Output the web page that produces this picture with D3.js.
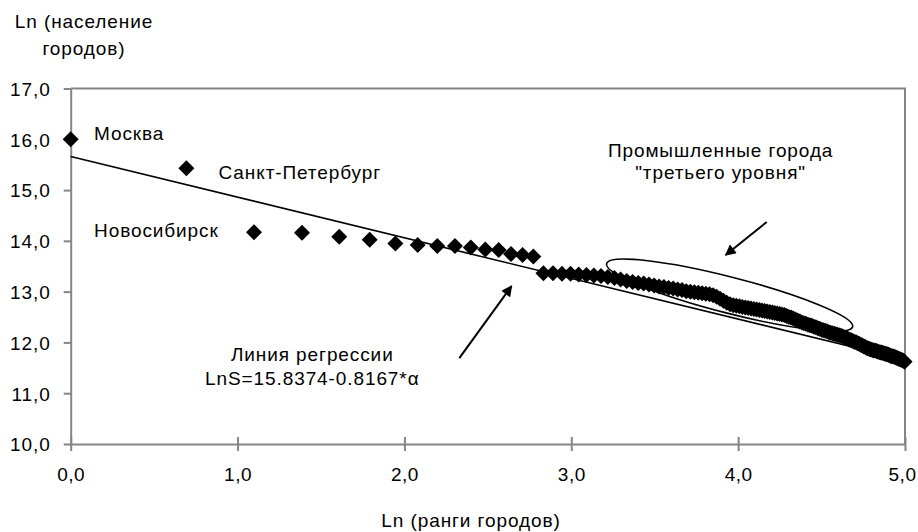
<!DOCTYPE html>
<html>
<head>
<meta charset="utf-8">
<script src="https://cdn.jsdelivr.net/npm/d3@7"></script>
<style>
  body { margin: 0; background: #fff; }
  text { font-family: 'Liberation Sans', Arial, sans-serif; font-size: 19px; letter-spacing: 0.9px; fill: #000; }
</style>
</head>
<body>
<div id="chart"></div>
<script>
// ln(population) of cities, ordered by rank 1..148
const lnPopulation = [
  16.00, 15.43, 14.17, 14.16, 14.08, 14.02, 13.95, 13.92, 13.90, 13.90,
  13.87, 13.83, 13.82, 13.74, 13.72, 13.69, 13.36, 13.36, 13.35, 13.35,
  13.34, 13.33, 13.32, 13.31, 13.29, 13.27, 13.24, 13.21, 13.19, 13.17,
  13.16, 13.14, 13.12, 13.10, 13.09, 13.07, 13.06, 13.04, 13.03, 13.01,
  13.00, 12.99, 12.98, 12.97, 12.96, 12.95, 12.93, 12.90, 12.86, 12.82,
  12.78, 12.75, 12.73, 12.72, 12.71, 12.70, 12.69, 12.68, 12.67, 12.66,
  12.65, 12.64, 12.63, 12.62, 12.61, 12.60, 12.59, 12.58, 12.57, 12.56,
  12.55, 12.54, 12.52, 12.50, 12.49, 12.47, 12.45, 12.43, 12.41, 12.39,
  12.38, 12.37, 12.35, 12.34, 12.33, 12.31, 12.30, 12.28, 12.27, 12.25,
  12.24, 12.23, 12.22, 12.20, 12.19, 12.18, 12.17, 12.16, 12.15, 12.14,
  12.13, 12.12, 12.10, 12.09, 12.08, 12.06, 12.05, 12.04, 12.02, 12.01,
  12.00, 11.98, 11.97, 11.95, 11.94, 11.92, 11.91, 11.89, 11.88, 11.87,
  11.86, 11.85, 11.84, 11.84, 11.83, 11.82, 11.81, 11.80, 11.80, 11.79,
  11.78, 11.77, 11.77, 11.76, 11.75, 11.74, 11.73, 11.73, 11.72, 11.71,
  11.70, 11.69, 11.68, 11.67, 11.66, 11.65, 11.64, 11.62,
];
const ranks = lnPopulation.map((d, i) => i + 1);

const xTicks = [0, 1, 2, 3, 4, 5];
const yTicks = [10, 11, 12, 13, 14, 15, 16, 17];

// trend line as drawn (start / end of the line)
const regressionX = [0, 5];
const regressionY = [15.66, 11.66];

// city labels: [text, ln rank, ln population at baseline]
const cityLabels = [
  ['Москва', 0.14, 15.98],
  ['Санкт-Петербург', 0.886, 15.22],
  ['Новосибирск', 0.14, 14.07],
];

const noteIndustrial = ['Промышленные города', '"третьего уровня"'];
const noteRegression = ['Линия регрессии', 'LnS=15.8374-0.8167*α'];

const width = 918;
const height = 532;
const margin = {
  top: 88.5, right: 13, bottom: 88, left: 70.7,
};
const axisGrey = '#858585';

const svg = d3.select('#chart')
  .append('svg')
  .attr('width', width)
  .attr('height', height);

const x = d3.scaleLinear()
  .domain([0, 5])
  .range([margin.left, width - margin.right]);
// rank -> position, ln taken by the scale itself
const xRank = d3.scaleLog()
  .domain([1, Math.exp(5)])
  .range([margin.left, width - margin.right]);
const y = d3.scaleLinear()
  .domain([10, 17])
  .range([height - margin.bottom, margin.top]);

const fmt = (d) => d.toFixed(1).replace('.', ',');

// top and right frame
svg.append('path')
  .attr('d', `M${x(0)},${y(17)}H${x(5)}V${y(10)}`)
  .attr('fill', 'none')
  .attr('stroke', axisGrey)
  .attr('stroke-width', 2);

// Y axis
const gy = svg.append('g')
  .attr('transform', `translate(${x(0)},0)`)
  .call(d3.axisLeft(y).tickValues(yTicks).tickFormat(fmt).tickSize(7).tickSizeOuter(0).tickPadding(13));
gy.selectAll('path, line').attr('stroke', axisGrey).attr('stroke-width', 2);
gy.selectAll('text').attr('font-size', null).attr('font-family', null).attr('dy', '0.36em');

// X axis, ticks cross the line
const gx = svg.append('g')
  .attr('transform', `translate(0,${y(10)})`)
  .call(d3.axisBottom(x).tickValues(xTicks).tickFormat(fmt).tickSize(7).tickSizeOuter(0).tickPadding(17));
gx.selectAll('path, line').attr('stroke', axisGrey).attr('stroke-width', 2);
gx.selectAll('.tick line').attr('y1', -7);
gx.selectAll('text')
  .attr('font-size', null)
  .attr('font-family', null)
  .style('letter-spacing', '0.5px')
  .attr('dx', (d) => (d === 5 ? -3 : 0));

// axis titles
svg.append('text')
  .attr('x', 84)
  .attr('y', 28)
  .attr('text-anchor', 'middle')
  .text('Ln (население');
svg.append('text')
  .attr('x', 84)
  .attr('y', 55)
  .attr('text-anchor', 'middle')
  .text('городов)');
svg.append('text')
  .attr('x', 471)
  .attr('y', 527)
  .attr('text-anchor', 'middle')
  .text('Ln (ранги городов)');

// regression line
svg.append('line')
  .attr('x1', x(regressionX[0]))
  .attr('y1', y(regressionY[0]))
  .attr('x2', x(regressionX[1]))
  .attr('y2', y(regressionY[1]))
  .attr('stroke', '#000')
  .attr('stroke-width', 1.6);

// city points
const diamond = d3.symbol(d3.symbolSquare, 128);
svg.selectAll('path.city')
  .data(ranks)
  .enter()
  .append('path')
  .attr('class', 'city')
  .attr('d', diamond)
  .attr('transform', (d, i) => `translate(${xRank(d)},${y(lnPopulation[i])}) rotate(45)`)
  .attr('fill', '#000');

// ellipse around the "third level" cities
const ellipse = { cx: 3.949, cy: 12.93 };
svg.append('ellipse')
  .attr('transform', `translate(${x(ellipse.cx)},${y(ellipse.cy)}) rotate(14.4)`)
  .attr('rx', 127)
  .attr('ry', 18)
  .attr('fill', 'none')
  .attr('stroke', '#000')
  .attr('stroke-width', 1.6);

// arrows
svg.append('defs')
  .append('marker')
  .attr('id', 'head')
  .attr('viewBox', '0 0 10 10')
  .attr('refX', 9)
  .attr('refY', 5)
  .attr('markerWidth', 7)
  .attr('markerHeight', 5.5)
  .attr('markerUnits', 'strokeWidth')
  .attr('orient', 'auto')
  .append('path')
  .attr('d', 'M0,0L10,5L0,10Z')
  .attr('fill', '#000');

const arrows = [
  [[2.329, 11.69], [2.642, 13.11]],
  [[4.171, 14.37], [3.925, 13.72]],
];
svg.selectAll('line.arrow')
  .data(arrows)
  .enter()
  .append('line')
  .attr('class', 'arrow')
  .attr('x1', (d) => x(d[0][0]))
  .attr('y1', (d) => y(d[0][1]))
  .attr('x2', (d) => x(d[1][0]))
  .attr('y2', (d) => y(d[1][1]))
  .attr('stroke', '#000')
  .attr('stroke-width', 2)
  .attr('marker-end', 'url(#head)');

// labels
svg.selectAll('text.city')
  .data(cityLabels)
  .enter()
  .append('text')
  .attr('class', 'city')
  .attr('x', (d) => x(d[1]))
  .attr('y', (d) => y(d[2]))
  .text((d) => d[0]);

svg.selectAll('text.industrial')
  .data(noteIndustrial)
  .enter()
  .append('text')
  .attr('class', 'industrial')
  .attr('x', x(3.895))
  .attr('y', (d, i) => y(15.65) + i * 21.5)
  .attr('text-anchor', 'middle')
  .text((d) => d);

svg.selectAll('text.regression')
  .data(noteRegression)
  .enter()
  .append('text')
  .attr('class', 'regression')
  .attr('x', x(1.448))
  .attr('y', (d, i) => y(11.63) + i * 24)
  .attr('text-anchor', 'middle')
  .text((d) => d);
</script>
</body>
</html>
